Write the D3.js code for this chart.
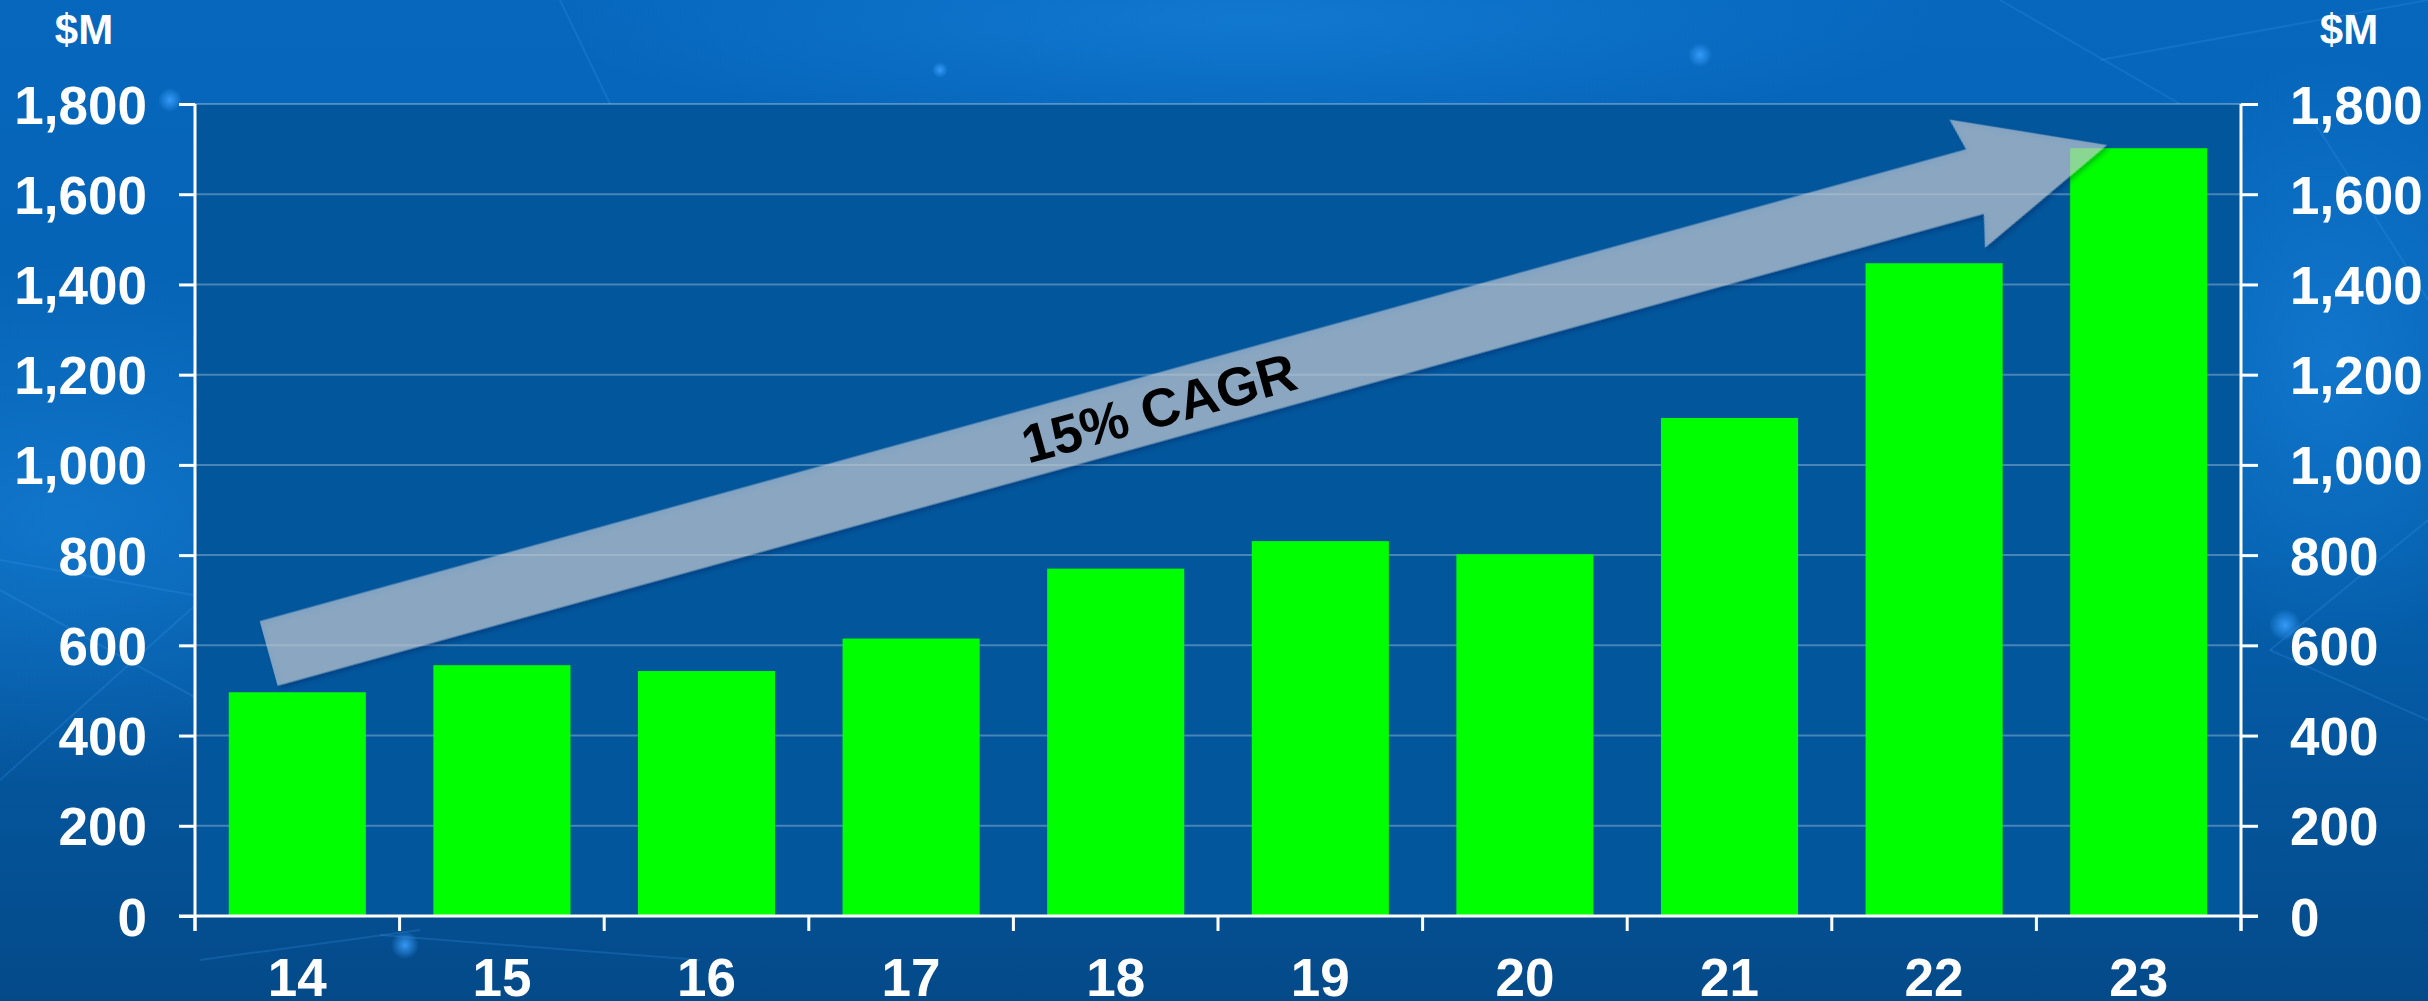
<!DOCTYPE html>
<html>
<head>
<meta charset="utf-8">
<script src="https://cdn.jsdelivr.net/npm/d3@7"></script>
<style>
  html, body { margin: 0; padding: 0; background: #0458a0; overflow: hidden; }
  svg { display: block; font-family: "Liberation Sans", Arial, Helvetica, sans-serif; }
</style>
</head>
<body>
<svg id="chart" width="2428" height="1001"></svg>
<script>
// ---- Data ----
const categories = ["14", "15", "16", "17", "18", "19", "20", "21", "22", "23"];
const revenue = [496, 556, 543, 615, 770, 831, 802, 1104, 1447, 1702];
const yTicks = [0, 200, 400, 600, 800, 1000, 1200, 1400, 1600, 1800];
const unitLabel = "$M";
const arrowLabel = "15% CAGR";
// arrow annotation anchors (category, value)
const arrowFrom = ["14", 582];
const arrowTo = ["23", 1709];

(function () {
// ---- Layout ----
const W = 2428, H = 1001;
const mLeft = 195, mRight = 2241, mTop = 104, mBottom = 916;

const svg = d3.select("#chart");
const defs = svg.append("defs");

// background gradient
const bg = defs.append("linearGradient").attr("id", "bgGrad")
  .attr("x1", 0).attr("y1", 0).attr("x2", 0).attr("y2", 1);
bg.append("stop").attr("offset", "0%").attr("stop-color", "#0667bd");
bg.append("stop").attr("offset", "55%").attr("stop-color", "#0560ae");
bg.append("stop").attr("offset", "100%").attr("stop-color", "#044a89");

const glow1 = defs.append("radialGradient").attr("id", "glow1");
glow1.append("stop").attr("offset", "0%").attr("stop-color", "#1a86e0").attr("stop-opacity", 0.55);
glow1.append("stop").attr("offset", "100%").attr("stop-color", "#1a86e0").attr("stop-opacity", 0);

const dot = defs.append("radialGradient").attr("id", "dot");
dot.append("stop").attr("offset", "0%").attr("stop-color", "#3aa0ff").attr("stop-opacity", 0.9);
dot.append("stop").attr("offset", "100%").attr("stop-color", "#3aa0ff").attr("stop-opacity", 0);

const shadow = defs.append("filter").attr("id", "shadow")
  .attr("x", "-5%").attr("y", "-20%").attr("width", "110%").attr("height", "140%");
shadow.append("feDropShadow").attr("dx", 2).attr("dy", 3).attr("stdDeviation", 2.5)
  .attr("flood-color", "#001a3a").attr("flood-opacity", 0.45);

svg.append("rect").attr("width", W).attr("height", H).attr("fill", "url(#bgGrad)");
svg.append("ellipse").attr("cx", 60).attr("cy", 520).attr("rx", 420).attr("ry", 260).attr("fill", "url(#glow1)");
svg.append("ellipse").attr("cx", 1250).attr("cy", 20).attr("rx", 700).attr("ry", 120).attr("fill", "url(#glow1)");
svg.append("ellipse").attr("cx", 2330).attr("cy", 360).attr("rx", 220).attr("ry", 300).attr("fill", "url(#glow1)");

// faint network lines
const netLines = svg.append("g").attr("stroke", "#3f9cf0").attr("stroke-opacity", 0.22).attr("stroke-width", 2).attr("fill", "none");
[[0, 780, 380, 440], [0, 560, 330, 620], [0, 590, 200, 700], [560, 0, 610, 104],
 [2000, 0, 2180, 104], [2100, 60, 2428, 0], [2270, 650, 2428, 520], [2270, 650, 2428, 720],
 [200, 960, 420, 930], [380, 935, 700, 960], [2300, 100, 2428, 300]]
  .forEach(l => netLines.append("line").attr("x1", l[0]).attr("y1", l[1]).attr("x2", l[2]).attr("y2", l[3]));
[[405, 945, 14], [1700, 55, 12], [2285, 625, 16], [170, 100, 12], [940, 70, 8]]
  .forEach(d => svg.append("circle").attr("cx", d[0]).attr("cy", d[1]).attr("r", d[2]).attr("fill", "url(#dot)"));

// ---- Scales ----
const x = d3.scaleBand().domain(categories).range([mLeft, mRight]).paddingInner(0.33).paddingOuter(0.165);
const xb = d3.scaleBand().domain(categories).range([mLeft, mRight]).padding(0);
const y = d3.scaleLinear().domain([0, 1800]).range([mBottom, mTop]);

// plot area
svg.append("rect").attr("x", mLeft).attr("y", mTop).attr("width", mRight - mLeft).attr("height", mBottom - mTop)
  .attr("fill", "#02569c");

// gridlines
svg.append("g").selectAll("line").data(yTicks.filter(t => t > 0)).join("line")
  .attr("x1", mLeft).attr("x2", mRight)
  .attr("y1", d => y(d)).attr("y2", d => y(d))
  .attr("stroke", "#ffffff").attr("stroke-opacity", 0.28).attr("stroke-width", 2);

// bars
svg.append("g").selectAll("rect").data(categories).join("rect")
  .attr("x", d => x(d))
  .attr("y", (d, i) => y(revenue[i]))
  .attr("width", x.bandwidth())
  .attr("height", (d, i) => y(0) - y(revenue[i]))
  .attr("fill", "#00ff00");

// axes
const fmt = d3.format(",");
const axisL = d3.axisLeft(y).tickValues(yTicks).tickSize(16).tickPadding(32).tickFormat(fmt);
const axisR = d3.axisRight(y).tickValues(yTicks).tickSize(17).tickPadding(32).tickFormat(fmt);

function styleAxis(g) {
  g.select(".domain").remove();
  g.selectAll(".tick line").attr("stroke", "#ffffff").attr("stroke-width", 3);
  g.selectAll(".tick text").attr("fill", "#ffffff").attr("font-size", 53).attr("font-weight", "bold")
    .attr("font-family", "'Liberation Sans', Arial, sans-serif").attr("dy", "0.36em");
}
const gL = svg.append("g").attr("transform", `translate(${mLeft},0)`).call(axisL).call(styleAxis);
gL.selectAll(".tick text").attr("x", -48);
const gR = svg.append("g").attr("transform", `translate(${mRight},0)`).call(axisR).call(styleAxis);
gR.selectAll(".tick text").attr("x", 49);

// vertical axis lines
[mLeft, mRight].forEach(xx => svg.append("line").attr("x1", xx).attr("x2", xx).attr("y1", mTop).attr("y2", mBottom + 15)
  .attr("stroke", "#ffffff").attr("stroke-width", 3));
// x-axis baseline
svg.append("line").attr("x1", mLeft - 16).attr("x2", mRight + 17).attr("y1", mBottom).attr("y2", mBottom)
  .attr("stroke", "#ffffff").attr("stroke-width", 3);
// x ticks at band boundaries
const bounds = categories.map(c => xb(c)).concat([mRight]);
svg.append("g").selectAll("line").data(bounds).join("line")
  .attr("x1", d => d).attr("x2", d => d).attr("y1", mBottom).attr("y2", mBottom + 15)
  .attr("stroke", "#ffffff").attr("stroke-width", 3);
// x labels
svg.append("g").selectAll("text").data(categories).join("text")
  .attr("x", d => xb(d) + xb.bandwidth() / 2).attr("y", 996)
  .attr("text-anchor", "middle").attr("fill", "#ffffff")
  .attr("font-size", 53).attr("font-weight", "bold").text(d => d);

// unit labels
[[84, 44], [2349, 44]].forEach(p => svg.append("text").attr("x", p[0]).attr("y", p[1])
  .attr("text-anchor", "middle").attr("fill", "#ffffff").attr("font-size", 42).attr("font-weight", "bold").text(unitLabel));

// ---- CAGR arrow ----
const ax0 = xb(arrowFrom[0]) + 0.36 * xb.bandwidth(), ay0 = y(arrowFrom[1]);
const ax1 = xb(arrowTo[0]) + 0.345 * xb.bandwidth(), ay1 = y(arrowTo[1]);
const L = Math.hypot(ax1 - ax0, ay1 - ay0);
const angR = Math.atan2(ay1 - ay0, ax1 - ax0);
const ang = angR * 180 / Math.PI;
const shaftW = 67, headW = 133, headL = 137;
const pts = [[0, -shaftW / 2], [L - headL, -shaftW / 2], [L - headL - 8, -headW / 2], [L, 0],
             [L - headL - 8, headW / 2], [L - headL, shaftW / 2], [0, shaftW / 2]];
const ag = svg.append("g").attr("transform", `translate(${ax0},${ay0}) rotate(${ang})`);
ag.append("polygon").attr("points", pts.map(p => p.join(",")).join(" "))
  .attr("fill", "rgb(208,213,222)").attr("fill-opacity", 0.6).attr("filter", "url(#shadow)");
const textCx = (xb("18") + xb("19")) / 2 + 43;
ag.append("text").attr("x", (textCx - ax0) / Math.cos(angR))
  .attr("y", 0).attr("dy", "0.36em").attr("text-anchor", "middle")
  .attr("fill", "#000000").attr("font-size", 54).attr("font-weight", "bold").text(arrowLabel);
})();
</script>
</body>
</html>
